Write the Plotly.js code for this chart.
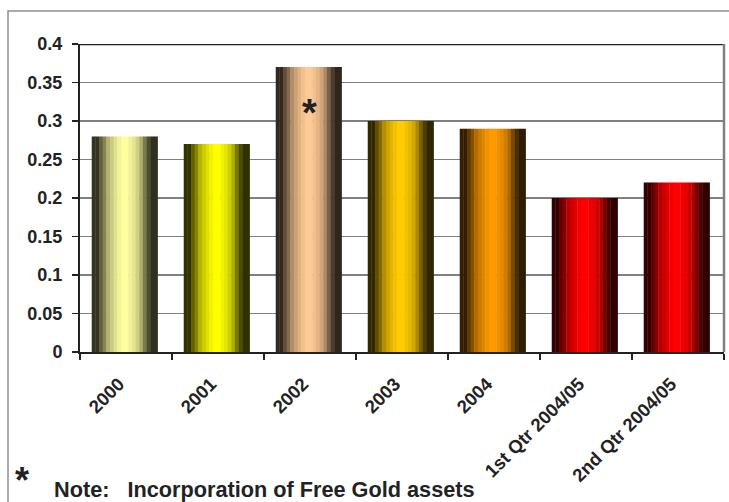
<!DOCTYPE html>
<html>
<head>
<meta charset="utf-8">
<script src="https://cdn.plot.ly/plotly-3.0.1.min.js"></script>
<style>
html,body{margin:0;padding:0;background:#fff;}
#chart{width:729px;height:502px;}
</style>
</head>
<body>
<div id="chart"></div>
<script>
// ---- data ----
var categories = ["2000", "2001", "2002", "2003", "2004", "1st Qtr 2004/05", "2nd Qtr 2004/05"];
var values = [0.28, 0.27, 0.37, 0.30, 0.29, 0.20, 0.22];
var baseColors = ["#ffffa0", "#ffff00", "#ffc994", "#ffcc00", "#ff9900", "#ff0000", "#ff0000"];
var yTicks = [0, 0.05, 0.1, 0.15, 0.2, 0.25, 0.3, 0.35, 0.4];
var noteText = "Note:   Incorporation of Free Gold assets";

// ---- cylinder shading (style only) ----
var profile = [0.2, 0.2, 0.38, 0.52, 0.7, 0.8, 0.88, 0.95, 1.0, 1.0, 0.95, 0.9, 0.82, 0.68, 0.48, 0.3, 0.19, 0.19];
var N = profile.length;
var W = 0.715;
function shade(hex, f) {
  var r = parseInt(hex.substr(1, 2), 16), g = parseInt(hex.substr(3, 2), 16), b = parseInt(hex.substr(5, 2), 16);
  return "rgb(" + Math.round(r * f) + "," + Math.round(g * f) + "," + Math.round(b * f) + ")";
}
var traces = [];
for (var i = 0; i < N; i++) {
  traces.push({
    type: "bar",
    x: categories,
    y: values,
    width: W / N + 0.004,
    offset: -W / 2 + i * W / N - 0.015,
    marker: { color: baseColors.map(function (c) { return shade(c, profile[i]); }), line: { width: 0 } },
    hoverinfo: "skip",
    showlegend: false
  });
}

var font = "'Liberation Sans', Arial, sans-serif";
var layout = {
  width: 729, height: 502,
  margin: { l: 80, r: 5, t: 44, b: 150 },
  paper_bgcolor: "#ffffff", plot_bgcolor: "#ffffff",
  barmode: "overlay",
  showlegend: false,
  font: { family: font, color: "#222222" },
  xaxis: {
    type: "category",
    categoryorder: "array", categoryarray: categories,
    range: [-0.5, categories.length - 0.5],
    autorange: false,
    tickvals: categories,
    ticktext: categories.map(function (c) { return "<b>" + c + "</b>"; }),
    showgrid: false,
    showline: true, linecolor: "#222222", linewidth: 2,
    ticks: "outside", tickson: "boundaries", ticklen: 6, tickcolor: "#222222", tickwidth: 1.5,
    tickangle: -45,
    ticklabelstandoff: 12,
    ticklabelshift: -7,
    tickfont: { family: font, size: 18.5, color: "#222222" },
    fixedrange: true
  },
  yaxis: {
    range: [0, 0.4],
    autorange: false,
    tickvals: yTicks,
    ticktext: yTicks.map(function (v) { return "<b>" + String(v) + "</b>"; }),
    showgrid: true, gridcolor: "#808080", gridwidth: 1.5,
    showline: true, linecolor: "#222222", linewidth: 2,
    ticks: "outside", ticklen: 6, tickcolor: "#222222", tickwidth: 1.5,
    ticklabelstandoff: 6,
    zeroline: false,
    tickfont: { family: font, size: 18, color: "#222222" },
    fixedrange: true
  },
  shapes: [
    { type: "line", xref: "paper", yref: "y", x0: 0, x1: 1, y0: 0.4, y1: 0.4, line: { color: "#222222", width: 2.5 } },
    { type: "line", xref: "paper", yref: "y", x0: 1, x1: 1, y0: 0, y1: 0.4, line: { color: "#808080", width: 2.5 } },
    { type: "rect", xref: "paper", yref: "paper", x0: -0.1118, x1: 1.05, y0: -0.7, y1: 1.1071, line: { color: "#909090", width: 1.5 }, layer: "below" }
  ],
  annotations: [
    { xref: "x", yref: "y", x: 2, y: 0.314, text: "<b>*</b>", showarrow: false, xanchor: "center", yanchor: "middle", xshift: -1, yshift: -3,
      font: { family: font, size: 38, color: "#222222" } },
    { xref: "paper", yref: "paper", x: -0.112, y: -0.39, text: "<b>*</b>", showarrow: false, xanchor: "left", yanchor: "middle", xshift: 5, yshift: -8,
      font: { family: font, size: 36, color: "#222222" } },
    { xref: "paper", yref: "paper", x: -0.043, y: -0.44, text: "<b>" + noteText + "</b>", showarrow: false, xanchor: "left", yanchor: "middle", yshift: -2,
      font: { family: font, size: 21.7, color: "#222222" } }
  ]
};

Plotly.newPlot("chart", traces, layout, { staticPlot: true, displayModeBar: false });
</script>
</body>
</html>
